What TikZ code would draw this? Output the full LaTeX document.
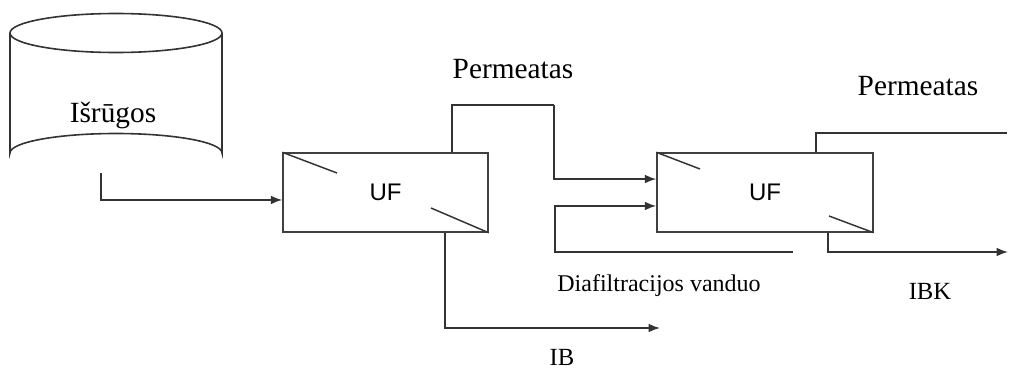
\documentclass[tikz,border=0pt]{standalone}
\usepackage{fontspec}
\setmainfont{Liberation Serif}
\newfontfamily\ufsans{Liberation Sans}
\usetikzlibrary{arrows.meta,positioning}

\begin{document}
\begin{tikzpicture}[
        x=0.75pt, y=-0.75pt,
        >=Latex,
        pipe/.style={line width=1.2pt, draw=black!80},
        flow/.style={pipe, -{Latex[length=8.5pt, width=6.5pt]}},
        module/.style={draw=black!75, line width=1.1pt, inner sep=0pt,
            minimum height=59.25pt, font=\ufsans\fontsize{18}{20}\selectfont},
        membrane/.style={line width=1.1pt, draw=black!80},
        tag/.style={inner sep=0pt, anchor=base, font=\fontsize{22}{26}\selectfont},
        smalltag/.style={inner sep=0pt, anchor=base, font=\fontsize{18.5}{22}\selectfont}
    ]
        \useasboundingbox (0,0) rectangle (1009,371);

        % Whey tank.
        \draw[pipe] (10,33) -- (10,153) arc[start angle=180, end angle=360,
            x radius=106, y radius=19.5] -- (222,33);
        \draw[pipe] (116,33) ellipse[x radius=106, y radius=19.5];
        \node[tag] (whey) at (113,122) {Išrūgos};
        \coordinate (wheyout) at (101,172.5);

        % Ultrafiltration modules.
        \node[module, minimum width=153.75pt] (uf1) at (385.5,192.5) {UF};
        \node[module, minimum width=162pt] (uf2) at (765,192.5) {UF};
        \draw[membrane] (uf1.north west) -- (337,173);
        \draw[membrane] (431,208) -- (uf1.south east);
        \draw[membrane] (uf2.north west) -- (700,169);
        \draw[membrane] (829,216) -- (uf2.south east);

        % Free ends and bends of the lines.
        \coordinate (perm1) at (554,105);
        \coordinate (dia) at (793,252);
        \coordinate (diabend) at (555,252);
        \coordinate (ib) at (660,328);
        \coordinate (perm2) at (1007,133);
        \coordinate (ibk) at (1008,252);

        \draw[flow] (wheyout) |- ([yshift=-5.6pt]uf1.west);
        \draw[pipe] ([xshift=49.9pt]uf1.north) |- (perm1);
        \draw[flow] (perm1) |- ([yshift=10.1pt]uf2.west);
        \draw[flow] (dia) -- (diabend) |- ([yshift=-10.1pt]uf2.west);
        \draw[flow] ([xshift=44.6pt]uf1.south) |- (ib);
        \draw[pipe] ([xshift=38.25pt]uf2.north) |- (perm2);
        \draw[flow] ([xshift=47.25pt]uf2.south) |- (ibk);

        % Labels.
        \node[tag] (permlab1) at (513,78) {Permeatas};
        \node[tag] (permlab2) at (918,95) {Permeatas};
        \node[smalltag, font=\fontsize{18}{22}\selectfont] (dialab) at (659,291)
            {Diafiltracijos vanduo};
        \node[smalltag] (ibklab) at (930,299) {IBK};
        \node[smalltag] (iblab) at (562,365) {IB};
    \end{tikzpicture}
\end{document}
